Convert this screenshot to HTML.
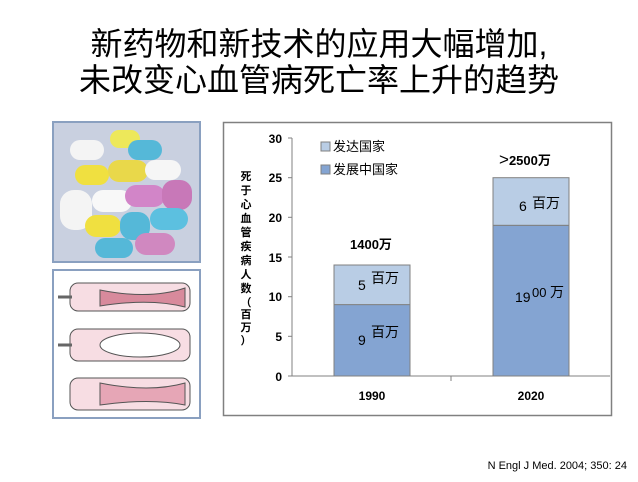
<!DOCTYPE html>
<html><head><meta charset="utf-8"><style>
body{margin:0;width:638px;height:482px;background:#fff;position:relative;overflow:hidden;font-family:"Liberation Sans","Noto Sans CJK SC",sans-serif}
.t{position:absolute;left:0;width:638px;text-align:center;font-size:32px;line-height:36px;color:#000;font-family:"Liberation Sans","Noto Sans CJK SC",sans-serif}
</style></head><body>
<div class="t" style="top:26px">新药物和新技术的应用大幅增加,</div>
<div class="t" style="top:62px">未改变心血管病死亡率上升的趋势</div>
<svg width="638" height="482" style="position:absolute;left:0;top:0" font-family="Liberation Sans, Noto Sans CJK SC, sans-serif">
<rect x="53" y="122" width="147" height="140" fill="#c9d0e0" stroke="#8aa0c0" stroke-width="2"/>
<g stroke-width="0">
<rect x="70" y="140" width="34" height="20" rx="10" fill="#f4f4f4"/>
<rect x="110" y="130" width="30" height="18" rx="9" fill="#ede85a"/>
<rect x="128" y="140" width="34" height="20" rx="10" fill="#55b8d8"/>
<rect x="75" y="165" width="34" height="20" rx="10" fill="#f0e040"/>
<rect x="108" y="160" width="40" height="22" rx="11" fill="#e9d84a"/>
<rect x="145" y="160" width="36" height="20" rx="10" fill="#f6f6f6"/>
<rect x="60" y="190" width="32" height="40" rx="14" fill="#f4f4f4"/>
<rect x="92" y="190" width="40" height="22" rx="11" fill="#f8f8f8"/>
<rect x="125" y="185" width="40" height="22" rx="11" fill="#d285c8"/>
<rect x="162" y="180" width="30" height="30" rx="12" fill="#c878b8"/>
<rect x="85" y="215" width="36" height="22" rx="11" fill="#f0e040"/>
<rect x="120" y="212" width="30" height="28" rx="12" fill="#55b8d8"/>
<rect x="150" y="208" width="38" height="22" rx="11" fill="#5cc0e0"/>
<rect x="95" y="238" width="38" height="20" rx="10" fill="#55b8d8"/>
<rect x="135" y="233" width="40" height="22" rx="11" fill="#d088c0"/>
</g>
<rect x="53" y="270" width="147" height="148" fill="#fff" stroke="#8aa0c0" stroke-width="2"/>
<g stroke="#555" stroke-width="1">
<rect x="70" y="283" width="120" height="28" rx="8" fill="#f7dde3"/>
<path d="M100 290 Q150 300 185 288 L185 307 Q150 298 100 306Z" fill="#d88a9c"/>
<rect x="70" y="329" width="120" height="32" rx="8" fill="#f7dde3"/>
<ellipse cx="140" cy="345" rx="40" ry="12" fill="#fff"/>
<rect x="70" y="378" width="120" height="32" rx="8" fill="#f7dde3"/>
<path d="M100 383 Q150 393 185 383 L185 405 Q150 398 100 405Z" fill="#e6a6b6"/>
</g>
<line x1="58" y1="297" x2="72" y2="297" stroke="#666" stroke-width="3"/>
<line x1="58" y1="345" x2="72" y2="345" stroke="#666" stroke-width="3"/>
<rect x="223.5" y="122.5" width="388" height="293" fill="#fff" stroke="#808080" stroke-width="1.5"/>
<line x1="292" y1="138" x2="292" y2="376" stroke="#808080"/>
<line x1="292" y1="376" x2="610" y2="376" stroke="#808080"/>
<g stroke="#808080">
<line x1="288" y1="138" x2="292" y2="138"/><line x1="288" y1="177.7" x2="292" y2="177.7"/>
<line x1="288" y1="217.3" x2="292" y2="217.3"/><line x1="288" y1="257" x2="292" y2="257"/>
<line x1="288" y1="296.7" x2="292" y2="296.7"/><line x1="288" y1="336.3" x2="292" y2="336.3"/>
<line x1="288" y1="376" x2="292" y2="376"/>
<line x1="451" y1="376" x2="451" y2="381"/>
</g>
<g font-size="12" font-weight="bold" text-anchor="end">
<text x="282" y="143">30</text><text x="282" y="182">25</text><text x="282" y="222">20</text>
<text x="282" y="262">15</text><text x="282" y="301">10</text><text x="282" y="341">5</text><text x="282" y="381">0</text>
</g>
<g font-size="12" font-weight="bold" text-anchor="middle">
<text x="372" y="400">1990</text><text x="531" y="400">2020</text>
</g>
<g font-size="11" font-weight="bold" text-anchor="middle">
<text x="246" y="180">死</text><text x="246" y="194">于</text><text x="246" y="208">心</text>
<text x="246" y="222">血</text><text x="246" y="236">管</text><text x="246" y="250">疾</text>
<text x="246" y="264">病</text><text x="246" y="278">人</text><text x="246" y="292">数</text>
<text x="246" y="306">（</text><text x="246" y="318">百</text><text x="246" y="331">万</text><text x="246" y="344">）</text>
</g>
<g stroke="#808080" stroke-width="1">
<rect x="334" y="304.6" width="76" height="71.4" fill="#84a4d2"/>
<rect x="334" y="265" width="76" height="39.6" fill="#b9cde5"/>
<rect x="493" y="225.3" width="76" height="150.7" fill="#84a4d2"/>
<rect x="493" y="177.7" width="76" height="47.6" fill="#b9cde5"/>
</g>
<g font-size="14">
<text x="358" y="290">5</text><text x="371" y="283">百万</text>
<text x="358" y="345">9</text><text x="371" y="337">百万</text>
<text x="519" y="211">6</text><text x="532" y="208">百万</text>
<text x="515" y="302">19</text><text x="532" y="297" font-size="13">00</text><text x="550" y="297">万</text>
</g>
<g font-size="13" font-weight="bold">
<text x="350" y="249">1400万</text>
<text x="499" y="165"><tspan font-weight="normal" font-size="17">&gt;</tspan>2500万</text>
</g>
<rect x="321" y="142" width="9" height="9" fill="#b9cde5" stroke="#808080"/>
<text x="333" y="151" font-size="13">发达国家</text>
<rect x="321" y="165" width="9" height="9" fill="#84a4d2" stroke="#808080"/>
<text x="333" y="174" font-size="13">发展中国家</text>
<text x="627" y="469" font-size="11" text-anchor="end">N Engl J Med. 2004; 350: 24</text>
</svg>
</body></html>
